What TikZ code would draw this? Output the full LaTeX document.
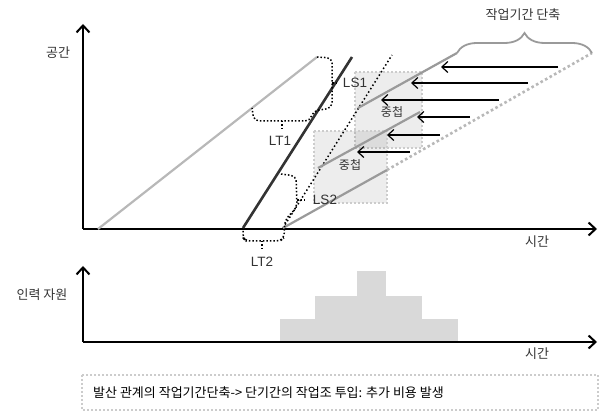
\documentclass[tikz,border=0pt]{standalone}
\usepackage{fontspec}
\setmainfont{Liberation Sans}
\newfontfamily\kr{Noto Sans CJK KR}
\usetikzlibrary{arrows.meta,decorations.pathreplacing}
\definecolor{txt}{HTML}{333333}
\definecolor{lgray}{HTML}{B8B8B8}
\definecolor{mgray}{HTML}{9A9A9A}
\definecolor{dline}{HTML}{333333}
\definecolor{bar}{HTML}{D9D9D9}
\definecolor{boxb}{HTML}{CCCCCC}
\begin{document}
\begin{tikzpicture}[x=1pt,y=-1pt,
  axis/.style={line width=2pt,-{Straight Barb[length=7pt,width=13pt,line width=2pt]}},
  shortarrow/.style={line width=1.2pt,-{Straight Barb[length=6pt,width=11pt,line width=1.2pt]}},
  brk/.style={line width=1.5pt,dash pattern=on 1.5pt off 2pt,rounded corners=5pt},
  work/.style={line width=2.2pt,color=mgray},
  ovl/.style={fill=black,fill opacity=0.07,draw=boxb,draw opacity=1,line width=1.5pt,dash pattern=on 2pt off 2pt},
  lab/.style={font=\fontsize{13.5}{14}\selectfont,text=txt,inner sep=0pt},
  klab/.style={font=\kr\fontsize{13}{14}\selectfont,text=txt,inner sep=0pt}
]
\useasboundingbox (0,0) rectangle (605,419);

% overlap rectangles
\path[ovl] (355,72) rectangle (422,148);
\path[ovl] (314,131) rectangle (387,203);

% axes
\coordinate (O1) at (83,229);
\coordinate (Y1) at (83,24);
\coordinate (X1) at (597,229);
\draw[axis] (O1) -- (Y1);
\draw[axis] (O1) -- (X1);

% schedule lines
\coordinate (G1s) at (98,229);
\coordinate (G1e) at (317,57);
\draw[line width=2.2pt,color=lgray] (G1s) -- (G1e);

\coordinate (Ds) at (243,228);
\coordinate (De) at (352,57);
\draw[line width=2.6pt,color=dline] (Ds) -- (De);

\coordinate (Ps) at (283,228);
\coordinate (Pe) at (392,55);
\draw[line width=1.5pt,dash pattern=on 1.5pt off 2.5pt] (Ps) -- (Pe);

\coordinate (As) at (358,108);
\coordinate (Ae) at (457,53);
\coordinate (Bs) at (318,168);
\coordinate (Be) at (420,112);
\coordinate (Cs) at (283,228);
\coordinate (Ce) at (387,170);
\coordinate (Qe) at (592,53);
\draw[work] (As) -- (Ae);
\draw[work] (Bs) -- (Be);
\draw[work] (Cs) -- (Ce);
\draw[line width=2.6pt,color=lgray,dash pattern=on 2.6pt off 2.6pt] (Ce) -- (Qe);

% brace
\draw[line width=1.8pt,color=mgray,decorate,decoration={brace,amplitude=20pt}] (Ae) -- (Qe);
\node[klab] (cut) at (523,15) {작업기간 단축};

% arrows
\foreach \y/\a/\b [count=\i] in {67/558/441, 83/528/411, 100/499/381, 117/470/417, 135/440/387, 152/410/357}{
  \coordinate (t\i) at (\a,\y);
  \coordinate (h\i) at (\b,\y);
  \draw[shortarrow] (t\i) -- (h\i);
}

% brackets
\draw[brk] (G1e) -- (332,58) -- (332,108) -- (313,111) -- (310,121) -- (254,121) -- (252,108);
\draw[brk] (282,121) -- (282,129);
\draw[brk] (332,83) -- (339,83);
\draw[brk] (281,174) -- (296,176) -- (297,207) -- (285,220) -- (284,238) -- (280,241) -- (246,241) -- (243,238) -- (243,229);
\draw[brk] (262,241) -- (262,251);
\draw[brk] (297,200) -- (305,200);

% labels
\node[klab] (space) at (58,53) {공간};
\node[klab] (time1) at (537,242) {시간};
\node[lab] (lt1) at (280,141) {LT1};
\node[lab] (lt2) at (262,262) {LT2};
\node[lab] (ls1) at (355,83) {LS1};
\node[lab] (ls2) at (325,200) {LS2};
\node[klab,font=\kr\fontsize{12}{13}\selectfont] (ov1) at (392,112) {중첩};
\node[klab,font=\kr\fontsize{12}{13}\selectfont] (ov2) at (350,165) {중첩};

% resource chart
\fill[bar] (280,319) rectangle (458,342);
\fill[bar] (315,296) rectangle (422,319);
\fill[bar] (357,271) rectangle (386,296);
\coordinate (O2) at (83,342);
\coordinate (Y2) at (83,266);
\coordinate (X2) at (597,342);
\draw[axis] (O2) -- (Y2);
\draw[axis] (O2) -- (X2);
\node[klab] (res) at (42,295) {인력 자원};
\node[klab] (time2) at (537,354) {시간};

% note box
\draw[draw=boxb,line width=2pt,dash pattern=on 2pt off 2pt] (82,375) rectangle (598,410);
\node[anchor=west,inner sep=0pt,font=\kr\fontsize{13}{14}\selectfont] (note) at (93,393) {발산 관계의 작업기간단축-> 단기간의 작업조 투입: 추가 비용 발생};
\end{tikzpicture}
\end{document}
